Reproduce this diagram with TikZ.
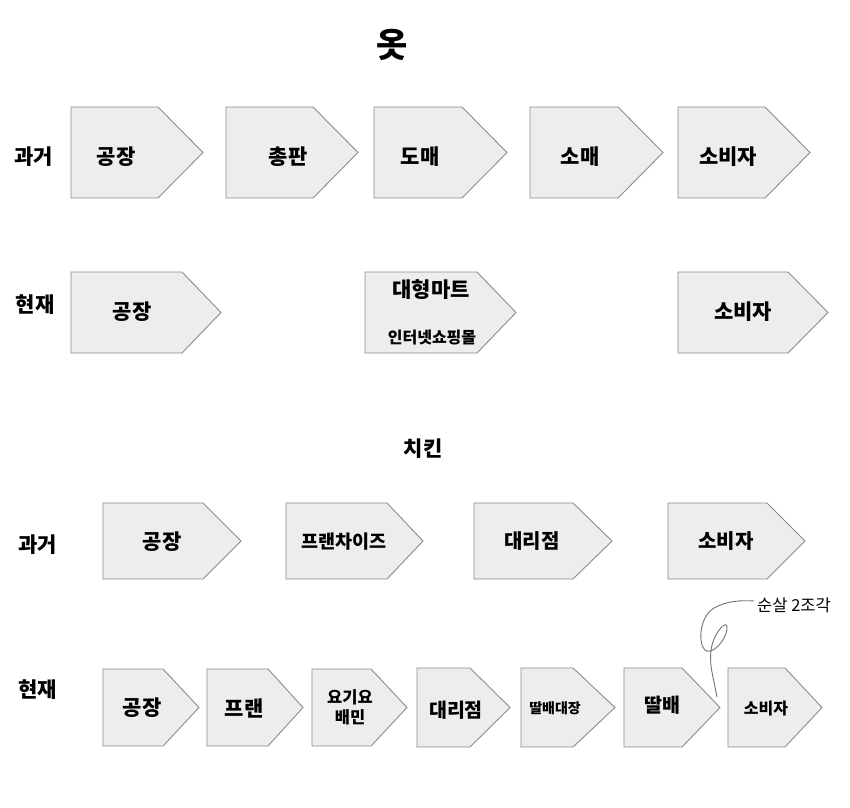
\documentclass[tikz,border=0pt]{standalone}
\usepackage{fontspec}
\setmainfont{Noto Sans CJK KR}
\begin{document}
\begin{tikzpicture}[x=1pt,y=-1pt,
  boxst/.style={draw=black!45, fill=black!7, line width=0.9pt, line join=miter},
  txt/.style={inner sep=0pt, text=black},
  fb/.style={font=\fontsize{#1}{#1}\selectfont\bfseries},
  fr/.style={font=\fontsize{#1}{#1}\selectfont}]
\useasboundingbox[fill=white] (0,0) rectangle (850,807);
\newcommand\abox[5]{\draw[boxst] (#1,#4) -- (#2,#4) -- (#3,{(#4+#5)/2}) -- (#2,#5) -- (#1,#5) -- cycle;}
% Title
\node[txt,fb=34] (title) at (392,45) {옷};
% clothing past
\abox{71}{158}{203}{107}{198}
\abox{226}{313}{358}{107}{198}
\abox{374}{462}{507}{107}{198}
\abox{530}{618}{663}{107}{198}
\abox{678}{765}{810}{107}{198}
\node[txt,fb=21] (l1) at (34,157) {과거};
\node[txt,fb=21] (a1) at (116,157) {공장};
\node[txt,fb=21] (a2) at (288,157) {총판};
\node[txt,fb=21] (a3) at (420,157) {도매};
\node[txt,fb=21] (a4) at (580,157) {소매};
\node[txt,fb=21] (a5) at (728,157) {소비자};
% clothing present
\abox{71}{182}{221}{272}{353}
\abox{365}{477}{516}{272}{353}
\abox{678}{788}{828}{272}{353}
\node[txt,fb=21] (l2) at (35,305) {현재};
\node[txt,fb=21] (b1) at (132,312) {공장};
\node[txt,fb=21] (b2) at (431,290) {대형마트};
\node[txt,fb=16] (b2s) at (432,338) {인터넷쇼핑몰};
\node[txt,fb=21] (b3) at (743,312) {소비자};
% chicken title
\node[txt,fb=21] (title2) at (423,449) {치킨};
% chicken past
\abox{103}{203}{241}{503}{579}
\abox{286}{387}{423}{503}{579}
\abox{474}{573}{612}{503}{579}
\abox{668}{767}{805}{503}{579}
\node[txt,fb=21] (l3) at (38,545) {과거};
\node[txt,fb=21] (c1) at (162,542) {공장};
\node[txt,fb=18.5] (c2) at (344,542) {프랜차이즈};
\node[txt,fb=20] (c3) at (532,541) {대리점};
\node[txt,fb=20] (c4) at (726,541) {소비자};
% chicken present
\abox{103}{163}{199}{669}{746}
\abox{207}{268}{303}{669}{746}
\abox{312}{371}{407}{669}{746}
\abox{417}{470}{510}{668}{747}
\abox{521}{573}{615}{668}{747}
\abox{624}{682}{720}{668}{747}
\abox{728}{785}{822}{668}{747}
\node[txt,fb=21] (l4) at (38,690) {현재};
\node[txt,fb=21] (d1) at (142,708) {공장};
\node[txt,fb=21] (d2) at (244,708) {프랜};
\node[txt,font=\fontsize{16.5}{20}\selectfont\bfseries,align=center] (d3) at (350,707) {요기요\\배민};
\node[txt,fb=19.5] (d4) at (456,710) {대리점};
\node[txt,fb=14] (d5) at (555,708) {딸배대장};
\node[txt,fb=19.5] (d6) at (662,705) {딸배};
\node[txt,fb=16] (d7) at (766,708) {소비자};
\node[txt,fr=16.5,anchor=west] (note) at (757,605) {순살 2조각};
\coordinate (cs) at (717,697);
\coordinate (ce) at (754,601);
\draw[black!55, line width=0.9pt] (cs) .. controls (713,675) and (708,662) .. (712,645)
  .. controls (716,630) and (728,618) .. (727,629)
  .. controls (726,640) and (712,656) .. (705,650)
  .. controls (698,644) and (699,617) .. (714,608)
  .. controls (726,601) and (742,600) .. (ce);
\end{tikzpicture}
\end{document}
